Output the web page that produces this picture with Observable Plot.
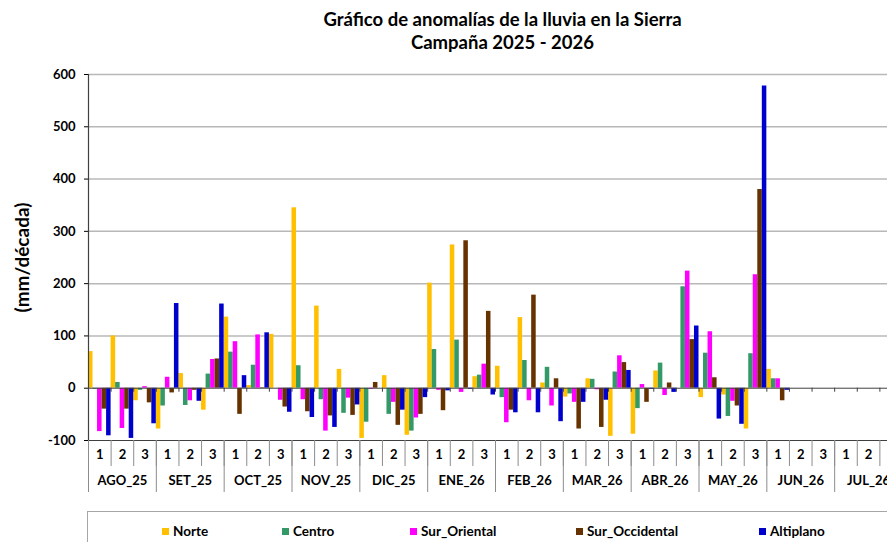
<!DOCTYPE html>
<html>
<head>
<meta charset="utf-8">
<script src="https://cdn.jsdelivr.net/npm/d3@7"></script>
<script src="https://cdn.jsdelivr.net/npm/@observablehq/plot@0.6"></script>
<style>
  html, body { margin: 0; padding: 0; background: #fff; overflow: hidden; width: 887px; height: 542px; }
  #wrap { position: relative; width: 887px; height: 542px; overflow: hidden; font-family: Lato, sans-serif; font-weight: bold; color: #000; }
  #title { position: absolute; left: 0; top: 8px; width: 1005px; text-align: center; font-size: 18.5px; line-height: 23px; }
  #chart { position: absolute; left: 0; top: 58px; width: 902px; }
  #chart svg { max-width: none !important; }
  #legend { position: absolute; left: 87px; top: 511px; width: 900px; height: 60px; border: 1px solid #a6a6a6; box-sizing: border-box; }
  .item { position: absolute; top: 11px; font-size: 13.5px; line-height: 16px; white-space: nowrap; }
  .sw { display: inline-block; width: 7px; height: 7px; margin-right: 4px; vertical-align: 1px; }
</style>
</head>
<body>
<div id="wrap">
  <div id="title">Gráfico de anomalías de la lluvia en la Sierra<br>Campaña 2025 - 2026</div>
  <div id="chart"></div>
  <div id="legend"></div>
</div>
<script>
// ---- data ----
const months = ["AGO_25","SET_25","OCT_25","NOV_25","DIC_25","ENE_26","FEB_26","MAR_26","ABR_26","MAY_26","JUN_26","JUL_26"];
const dekadLabels = ["1","2","3"];
const seriesNames = ["Norte","Centro","Sur_Oriental","Sur_Occidental","Altiplano"];
const seriesColors = ["#FFC000","#339966","#FF00FF","#663300","#0000CC"];
const yTicks = [-100, 0, 100, 200, 300, 400, 500, 600];

const norte         = [70, 100, -24, -78, 28, -42, 136, 5, 103, 345, 157, 36, -96, 24, -90, 201, 274, 22, 42, 135, 10, -17, 18, -92, -88, 33, 0, -18, -13, -78, 36, null, null, null, null, null];
const centro        = [-2, 11, -4, -34, -33, 27, 69, 44, 0, 43, -22, -48, -65, -50, -82, 74, 92, 25, -18, 53, 40, -11, 17, 31, -39, 48, 194, 67, -54, 66, 18, null, null, null, null, null];
const surOriental   = [-83, -77, 3, 21, -24, 55, 89, 102, -23, -22, -82, -19, -2, -27, -57, -4, -8, 46, -66, -24, -34, -27, -3, 62, 7, -14, 224, 108, -25, 217, 18, null, null, null, null, null];
const surOccidental = [-40, -40, -28, -9, -4, 56, -50, 1, -36, -45, -53, -52, 11, -71, -50, -43, 282, 147, -42, 178, 18, -78, -75, 49, -27, 10, 93, 20, -34, 380, -24, null, null, null, null, null];
const altiplano     = [-91, -96, -68, 162, -25, 161, 24, 106, -46, -56, -75, -32, 0, -42, -18, -5, -2, -13, -47, -47, -64, -27, -23, 34, -2, -8, 119, -59, -69, 578, -4, null, null, null, null, null];

const seriesValues = [norte, centro, surOriental, surOccidental, altiplano];

// ---- tables built from the arrays ----
const dekads = months.flatMap((m, mi) => dekadLabels.map((d, di) => ({i: mi * 3 + di, d, m})));
const rows = [];
seriesValues.forEach((vals, si) => vals.forEach((v, i) => {
  if (v != null) rows.push({i, si, series: seriesNames[si], value: v});
}));
const nSeries = seriesNames.length;
const dekadEdges = dekads.map(d => d.i).concat([dekads.length]);
const monthEdges = months.map((m, mi) => mi * 3).concat([dekads.length]);
const monthRows = months.map((m, mi) => ({m, i: mi * 3}));

const W = 902, H = 442, mT = 16, mB = 60, mL = 88;
const plotH = H - mT - mB;

const chart = Plot.plot({
  width: W, height: H,
  marginLeft: mL, marginRight: 0, marginTop: mT, marginBottom: mB,
  style: {fontFamily: "Lato, sans-serif", fontWeight: "bold", fontSize: "13px", color: "#000", background: "transparent", overflow: "visible", maxWidth: "none"},
  x: {domain: [0, dekads.length], axis: null},
  y: {domain: [-100, 600], ticks: yTicks, tickSize: 4, tickPadding: 9, tickFormat: d => String(d), label: null},
  color: {domain: seriesNames, range: seriesColors},
  marks: [
    Plot.ruleY(yTicks.filter(v => v > 0), {stroke: "#b8b8b8", strokeWidth: 1.5}),
    Plot.rectY(rows, {
      x1: d => d.i + d.si / nSeries,
      x2: d => d.i + (d.si + 1) / nSeries,
      y1: 0, y2: "value", fill: "series"
    }),
    Plot.ruleY([0], {stroke: "#404040", strokeWidth: 1}),
    Plot.ruleX(dekadEdges, {x: d => d, y1: 0, y2: 0, insetBottom: -4, stroke: "#404040"}),
    Plot.ruleY([-100], {stroke: "#404040", strokeWidth: 1.2}),
    Plot.ruleX([0], {stroke: "#404040", strokeWidth: 1.2}),
    // category table below the plot
    Plot.ruleX(dekadEdges, {x: d => d, insetTop: plotH, insetBottom: -26, stroke: "#8c8c8c"}),
    Plot.ruleX(monthEdges, {x: d => d, insetTop: plotH, insetBottom: -52, stroke: "#8c8c8c"}),
    Plot.text(dekads, {x: d => d.i + 0.5, text: "d", frameAnchor: "bottom", dy: 18, fontSize: 13}),
    Plot.text(monthRows, {x: d => d.i + 1.5, text: "m", frameAnchor: "bottom", dy: 44, fontSize: 13}),
    Plot.text(["(mm/década)"], {frameAnchor: "left", textAnchor: "middle", rotate: -90, dx: -66, fontSize: 19, text: d => d})
  ]
});
document.getElementById("chart").appendChild(chart);

// ---- legend ----
const legendX = [74, 194, 322, 488, 671];
const legend = document.getElementById("legend");
seriesNames.forEach((s, k) => {
  const el = document.createElement("div");
  el.className = "item";
  el.style.left = legendX[k] + "px";
  el.innerHTML = `<span class="sw" style="background:${seriesColors[k]}"></span>${s}`;
  legend.appendChild(el);
});
</script>
</body>
</html>
